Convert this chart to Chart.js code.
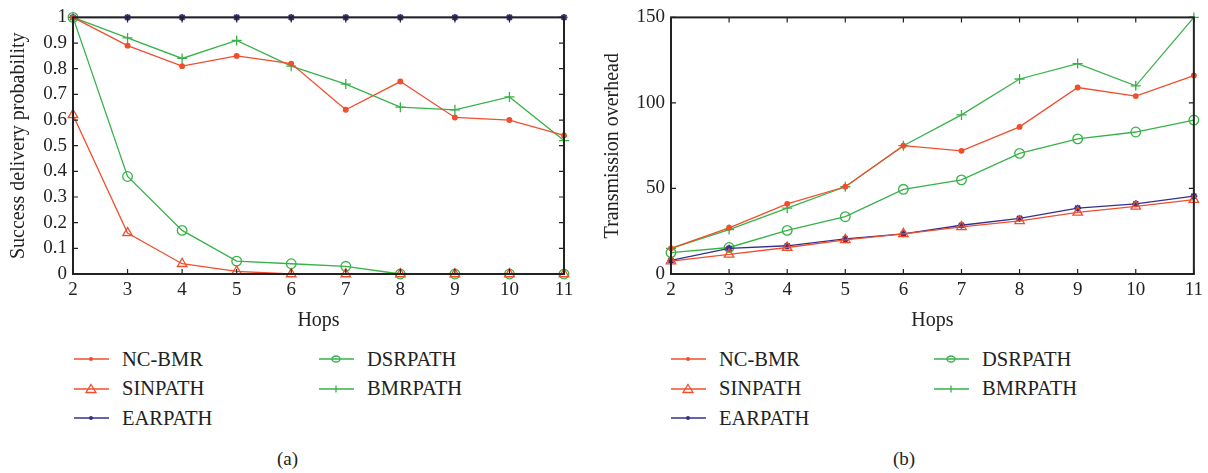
<!DOCTYPE html>
<html>
<head>
<meta charset="utf-8">
<script src="https://cdn.jsdelivr.net/npm/chart.js@4/dist/chart.umd.min.js"></script>
<style>
  html,body{margin:0;padding:0;background:#fff;}
  body{width:1208px;height:473px;position:relative;overflow:hidden;font-family:"Liberation Serif","DejaVu Serif",serif;color:#222;}
  .cv{position:absolute;}
  .leg{position:absolute;font-size:20.5px;display:flex;align-items:center;height:24px;white-space:nowrap;}
  .leg svg{margin-right:13px;}
  .cap{position:absolute;font-size:19px;}
</style>
</head>
<body>
<canvas id="ca" class="cv" style="left:0;top:0;" width="590" height="340"></canvas>
<canvas id="cb" class="cv" style="left:590px;top:0;" width="618" height="340"></canvas>
<div id="legA"></div>
<div id="legB"></div>
<div class="cap" style="left:277px;top:448px;">(a)</div>
<div class="cap" style="left:893px;top:448px;">(b)</div>
<script>
const hops = [2,3,4,5,6,7,8,9,10,11];
const seriesNames = ['NC-BMR','SINPATH','EARPATH','DSRPATH','BMRPATH'];

// (a) Success delivery probability
const aNCBMR   = [1, 0.89, 0.81, 0.85, 0.82, 0.64, 0.75, 0.61, 0.60, 0.54];
const aSINPATH = [0.62, 0.16, 0.04, 0.01, 0, 0, 0, 0, 0, 0];
const aEARPATH = [1, 1, 1, 1, 1, 1, 1, 1, 1, 1];
const aDSRPATH = [1, 0.38, 0.17, 0.05, 0.04, 0.03, 0, 0, 0, 0];
const aBMRPATH = [1, 0.92, 0.84, 0.91, 0.81, 0.74, 0.65, 0.64, 0.69, 0.52];

// (b) Transmission overhead
const bNCBMR   = [15, 27, 41, 51, 75, 72, 86, 109, 104, 116];
const bSINPATH = [7.5, 11.5, 15.5, 20, 23.5, 27.5, 31, 36, 39.5, 43.5];
const bEARPATH = [8, 15, 16.5, 20.5, 23.5, 28.5, 32.5, 38.5, 41, 45.5];
const bDSRPATH = [12.5, 15.5, 25.5, 33.5, 49.5, 55, 70.5, 79, 83, 90];
const bBMRPATH = [15, 26, 38.5, 51, 75, 93, 114, 123, 110, 150];

const aTicks = [0,0.1,0.2,0.3,0.4,0.5,0.6,0.7,0.8,0.9,1];
const bTicks = [0,50,100,150];

const RED = 'rgb(240,78,45)';
const GREEN = 'rgb(55,178,72)';
const BLUE = 'rgb(52,48,140)';
const FONT = '"Liberation Serif","DejaVu Serif",serif';

const styles = [
  {color:RED,   pointStyle:'circle',   radius:2.3, fill:true,  bw:1.3},
  {color:RED,   pointStyle:'triangle', radius:5.5, fill:false, bw:1.3},
  {color:BLUE,  pointStyle:'star',     radius:3.5, fill:true,  bw:1.8},
  {color:GREEN, pointStyle:'circle',   radius:4.8, fill:false, bw:1.3},
  {color:GREEN, pointStyle:'cross',    radius:5,   fill:false, bw:1.3}
];

function makeDatasets(arrs){
  return arrs.map((d,i)=>({
    label: seriesNames[i],
    data: d,
    borderColor: styles[i].color,
    backgroundColor: styles[i].fill ? styles[i].color : 'rgba(0,0,0,0)',
    pointBorderColor: styles[i].color,
    pointBackgroundColor: styles[i].fill ? styles[i].color : 'rgba(0,0,0,0)',
    pointStyle: styles[i].pointStyle,
    pointRadius: styles[i].radius,
    pointBorderWidth: styles[i].bw,
    borderWidth: 1.3,
    tension: 0,
    clip: false
  }));
}

const framePlugin = {
  id:'frame',
  afterDatasetsDraw(chart){
    const {ctx, chartArea:a, scales} = chart;
    ctx.save();
    ctx.strokeStyle = '#222';
    ctx.lineWidth = 1.2;
    const tl = 5;
    scales.y.ticks.forEach(t=>{
      const y = scales.y.getPixelForValue(t.value);
      ctx.beginPath();
      ctx.moveTo(a.left, y); ctx.lineTo(a.left+tl, y);
      ctx.moveTo(a.right, y); ctx.lineTo(a.right-tl, y);
      ctx.stroke();
    });
    scales.x.ticks.forEach((t,i)=>{
      const x = scales.x.getPixelForTick(i);
      ctx.beginPath();
      ctx.moveTo(x, a.bottom); ctx.lineTo(x, a.bottom-tl);
      ctx.moveTo(x, a.top); ctx.lineTo(x, a.top+tl);
      ctx.stroke();
    });
    ctx.lineWidth = 2;
    ctx.strokeRect(a.left, a.top, a.right-a.left, a.bottom-a.top);
    ctx.restore();
  }
};

function makeChart(id, arrs, yTitle, ymax, tickVals, yAxisW, padRight, titlePad){
  return new Chart(document.getElementById(id), {
    type:'line',
    data:{labels:hops, datasets:makeDatasets(arrs)},
    options:{
      responsive:false,
      animation:false,
      layout:{padding:{left:0, right:padRight, top:14, bottom:0}},
      plugins:{legend:{display:false}, tooltip:{enabled:false}},
      scales:{
        x:{
          type:'category',
          offset:false,
          grid:{display:false, drawTicks:false},
          border:{display:false},
          ticks:{color:'#222', font:{family:FONT, size:19}, padding:5, maxRotation:0, autoSkip:false},
          title:{display:true, text:'Hops', color:'#222', font:{family:FONT, size:20}, padding:{top:2,bottom:7}},
          afterFit(s){ s.height = 66; }
        },
        y:{
          min:0, max:ymax,
          afterBuildTicks(s){ s.ticks = tickVals.map(v=>({value:v})); },
          grid:{display:false, drawTicks:false},
          border:{display:false},
          ticks:{color:'#222', font:{family:FONT, size:19}, padding:6, autoSkip:false, callback:(v)=>String(v)},
          title:{display:true, text:yTitle, color:'#222', font:{family:FONT, size:20}, padding:{top:titlePad,bottom:4}},
          afterFit(s){ s.width = yAxisW; }
        }
      }
    },
    plugins:[framePlugin]
  });
}

makeChart('ca', [aNCBMR,aSINPATH,aEARPATH,aDSRPATH,aBMRPATH], 'Success delivery probability', 1, aTicks, 73, 26, 7);
makeChart('cb', [bNCBMR,bSINPATH,bEARPATH,bDSRPATH,bBMRPATH], 'Transmission overhead', 150, bTicks, 81, 11, 11);

function markerSVG(i){
  const c = styles[i].color;
  let m = '';
  if(i===0) m = `<circle cx="17" cy="6" r="2" fill="${c}"/>`;
  if(i===1) m = `<polygon points="17,1.5 22,9.5 12,9.5" fill="none" stroke="${c}" stroke-width="1.3"/>`;
  if(i===2) m = `<circle cx="17" cy="6" r="2" fill="${c}"/>`;
  if(i===3) m = `<ellipse cx="17" cy="6" rx="4" ry="3" fill="none" stroke="${c}" stroke-width="1.3"/>`;
  if(i===4) m = `<line x1="17" y1="2.5" x2="17" y2="9.5" stroke="${c}" stroke-width="1.3"/>`;
  return `<svg width="35" height="12"><line x1="0" y1="6" x2="35" y2="6" stroke="${c}" stroke-width="1.3"/>${m}</svg>`;
}
function buildLegend(id, col1, col2, top){
  const host = document.getElementById(id);
  const rows = [[0,col1],[1,col1],[2,col1],[3,col2],[4,col2]];
  const rowIdx = [0,1,2,0,1];
  let html = '';
  rows.forEach(([i,left],k)=>{
    html += `<div class="leg" style="left:${left}px;top:${top+rowIdx[k]*29.5}px;">${markerSVG(i)}<span>${seriesNames[i]}</span></div>`;
  });
  host.innerHTML = html;
}
buildLegend('legA', 74, 319, 347);
buildLegend('legB', 671, 934, 347);
</script>
</body>
</html>
